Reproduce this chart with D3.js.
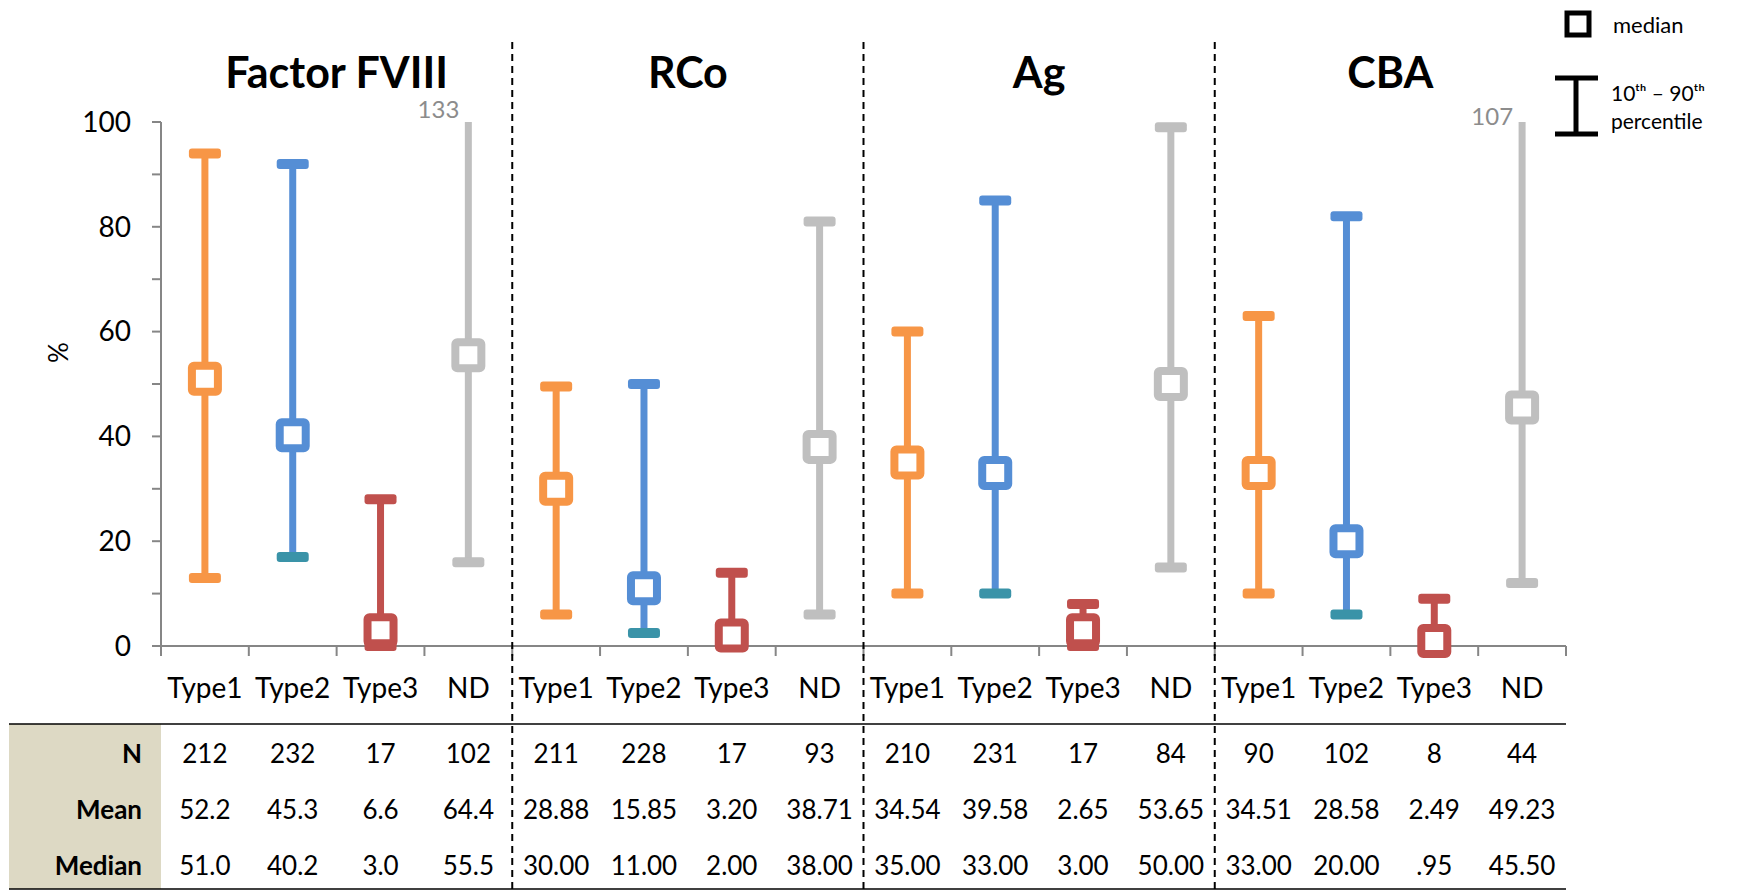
<!DOCTYPE html>
<html><head><meta charset="utf-8">
<script src="https://cdn.jsdelivr.net/npm/d3@7"></script>
<style>
body{margin:0;background:#fff;}
svg{display:block;font-family:Lato,"Noto Sans",sans-serif;}
</style></head>
<body><svg id="c" width="1741" height="892"></svg>
<script>
// ---- data ----
const groups = ["Factor FVIII","RCo","Ag","CBA"];
const types = ["Type1","Type2","Type3","ND"];
// percentiles per group, in type order
const p90 = {
  "Factor FVIII":[94,92,28,133],
  "RCo":[49.5,50,14,81],
  "Ag":[60,85,8,99],
  "CBA":[63,82,9,107]
};
const p10 = {
  "Factor FVIII":[13,17,0,16],
  "RCo":[6,2.5,0,6],
  "Ag":[10,10,0,15],
  "CBA":[10,6,0,12]
};
const medians = {
  "Factor FVIII":[51.0,40.2,3.0,55.5],
  "RCo":[30,11,2,38],
  "Ag":[35,33,3,50],
  "CBA":[33,20,0.95,45.5]
};
const rowLabels = ["N","Mean","Median"];
const tableN = {
  "Factor FVIII":["212","232","17","102"],
  "RCo":["211","228","17","93"],
  "Ag":["210","231","17","84"],
  "CBA":["90","102","8","44"]
};
const tableMean = {
  "Factor FVIII":["52.2","45.3","6.6","64.4"],
  "RCo":["28.88","15.85","3.20","38.71"],
  "Ag":["34.54","39.58","2.65","53.65"],
  "CBA":["34.51","28.58","2.49","49.23"]
};
const tableMedian = {
  "Factor FVIII":["51.0","40.2","3.0","55.5"],
  "RCo":["30.00","11.00","2.00","38.00"],
  "Ag":["35.00","33.00","3.00","50.00"],
  "CBA":["33.00","20.00",".95","45.50"]
};
const yTicks = [0,20,40,60,80,100];
const yMinorTicks = [0,10,20,30,40,50,60,70,80,90,100];
const legendLabels = ["median", "10\u1D57\u02B0 \u2013 90\u1D57\u02B0", "percentile"];

// ---- styles ----
const colors = {"Type1":"#F79646","Type2":"#558ED5","Type3":"#C0504D","ND":"#BFBFBF"};
const lowCapColors = {"Type1":"#F79646","Type2":"#3A93A8","Type3":"#C0504D","ND":"#BFBFBF"};
const axisColor = "#868686";

const svg = d3.select("#c");
const x0 = 161, x1 = 1566;
const keys = [];
groups.forEach(g => types.forEach((t,i) => keys.push({g, t, i, k: g+"|"+t})));
const x = d3.scaleBand().domain(keys.map(d=>d.k)).range([x0,x1]).padding(0);
const gx = d3.scaleBand().domain(groups).range([x0,x1]).padding(0);
const y = d3.scaleLinear().domain([0,100]).range([646,122]);
const yMax = 100;

// table background
const tableTop = 724, tableBot = 889;
svg.append("rect").attr("x",9).attr("y",tableTop).attr("width",x0-9).attr("height",tableBot-tableTop).attr("fill","#DDD9C4");
svg.append("line").attr("x1",9).attr("x2",x1).attr("y1",tableTop).attr("y2",tableTop).attr("stroke","#000").attr("stroke-width",1.5);
svg.append("line").attr("x1",9).attr("x2",x1).attr("y1",tableBot).attr("y2",tableBot).attr("stroke","#000").attr("stroke-width",1.5);

// y axis
svg.append("line").attr("x1",x0).attr("x2",x0).attr("y1",y(0)).attr("y2",y(100)).attr("stroke",axisColor).attr("stroke-width",2);
svg.selectAll(".ytk").data(yMinorTicks).join("line")
  .attr("x1",x0-9).attr("x2",x0).attr("y1",d=>y(d)).attr("y2",d=>y(d)).attr("stroke",axisColor).attr("stroke-width",2);
svg.selectAll(".ylab").data(yTicks).join("text")
  .attr("x",x0-30).attr("y",d=>y(d)).attr("dy","0.35em").attr("text-anchor","end")
  .attr("font-size",28).attr("fill","#000").text(d=>d);
svg.append("text").attr("transform",`translate(68,${y(56)}) rotate(-90)`).attr("text-anchor","middle")
  .attr("font-size",26).attr("fill","#000").text("%");

// x axis
svg.append("line").attr("x1",x0).attr("x2",x1).attr("y1",y(0)).attr("y2",y(0)).attr("stroke",axisColor).attr("stroke-width",2);
const bounds = keys.map(d=>x(d.k)).concat([x1]);
svg.selectAll(".xtk").data(bounds).join("line")
  .attr("x1",d=>d).attr("x2",d=>d).attr("y1",y(0)).attr("y2",y(0)+10).attr("stroke",axisColor).attr("stroke-width",2);
svg.selectAll(".xlab").data(keys).join("text")
  .attr("x",d=>x(d.k)+x.bandwidth()/2).attr("y",688).attr("dy","0.35em").attr("text-anchor","middle")
  .attr("font-size",28).attr("fill","#000").text(d=>d.t);

// group titles
svg.selectAll(".gt").data(groups).join("text")
  .attr("x",d=>gx(d)+gx.bandwidth()/2).attr("y",88).attr("text-anchor","middle")
  .attr("font-size",43).attr("font-weight","bold").attr("fill","#000").text(d=>d);

// dashed separators
svg.selectAll(".sep").data(groups.slice(1)).join("line")
  .attr("x1",d=>gx(d)).attr("x2",d=>gx(d)).attr("y1",42).attr("y2",892)
  .attr("stroke","#000").attr("stroke-width",2).attr("stroke-dasharray","7,5");

// table
const rows = [tableN, tableMean, tableMedian];
const rowY = [754, 810, 866];
rowLabels.forEach((lab,ri)=>{
  svg.append("text").attr("x",142).attr("y",rowY[ri]).attr("dy","0.35em").attr("text-anchor","end")
    .attr("font-size",26).attr("font-weight","bold").attr("fill","#000").text(lab);
  svg.selectAll(".tr"+ri).data(keys).join("text")
    .attr("x",d=>x(d.k)+x.bandwidth()/2).attr("y",rowY[ri]).attr("dy","0.35em").attr("text-anchor","middle")
    .attr("font-size",26).attr("fill","#000").text(d=>rows[ri][d.g][d.i]);
});

// error bars
const capW = 32, capH = 10, stemW = 7, box = 26, boxSW = 8;
const marks = svg.append("g");
keys.forEach(d=>{
  const cx = x(d.k)+x.bandwidth()/2;
  const hi = p90[d.g][d.i], lo = p10[d.g][d.i], med = medians[d.g][d.i];
  const c = colors[d.t];
  const top = Math.min(hi, yMax);
  marks.append("line").attr("x1",cx).attr("x2",cx).attr("y1",y(top)).attr("y2",y(lo))
    .attr("stroke",c).attr("stroke-width",stemW);
  if (hi <= yMax) {
    marks.append("rect").attr("x",cx-capW/2).attr("y",y(hi)-capH/2).attr("width",capW).attr("height",capH)
      .attr("rx",3).attr("fill",c);
  } else {
    marks.append("text").attr("x",cx-9).attr("y",y(yMax)-4-(hi<120?-7:0)).attr("text-anchor","end")
      .attr("font-size",24).attr("fill","#8C8C8C").text(hi);
  }
  marks.append("rect").attr("x",cx-capW/2).attr("y",y(lo)-capH/2).attr("width",capW).attr("height",capH)
    .attr("rx",3).attr("fill",lowCapColors[d.t]);
  marks.append("rect").attr("x",cx-box/2).attr("y",y(med)-box/2).attr("width",box).attr("height",box)
    .attr("rx",2).attr("fill","#fff").attr("stroke",c).attr("stroke-width",boxSW);
});

// legend
const lg = svg.append("g");
lg.append("rect").attr("x",1567).attr("y",13).attr("width",22).attr("height",22)
  .attr("fill","#fff").attr("stroke","#000").attr("stroke-width",5);
lg.append("text").attr("x",1613).attr("y",25).attr("dy","0.35em").attr("font-size",22).text(legendLabels[0]);
lg.append("line").attr("x1",1576).attr("x2",1576).attr("y1",78).attr("y2",134).attr("stroke","#000").attr("stroke-width",5);
lg.append("line").attr("x1",1555).attr("x2",1598).attr("y1",78).attr("y2",78).attr("stroke","#000").attr("stroke-width",5);
lg.append("line").attr("x1",1555).attr("x2",1598).attr("y1",134).attr("y2",134).attr("stroke","#000").attr("stroke-width",5);
lg.append("text").attr("x",1611).attr("y",101).attr("font-size",21).text(legendLabels[1]);
lg.append("text").attr("x",1611).attr("y",129).attr("font-size",21).text(legendLabels[2]);
</script></body></html>
